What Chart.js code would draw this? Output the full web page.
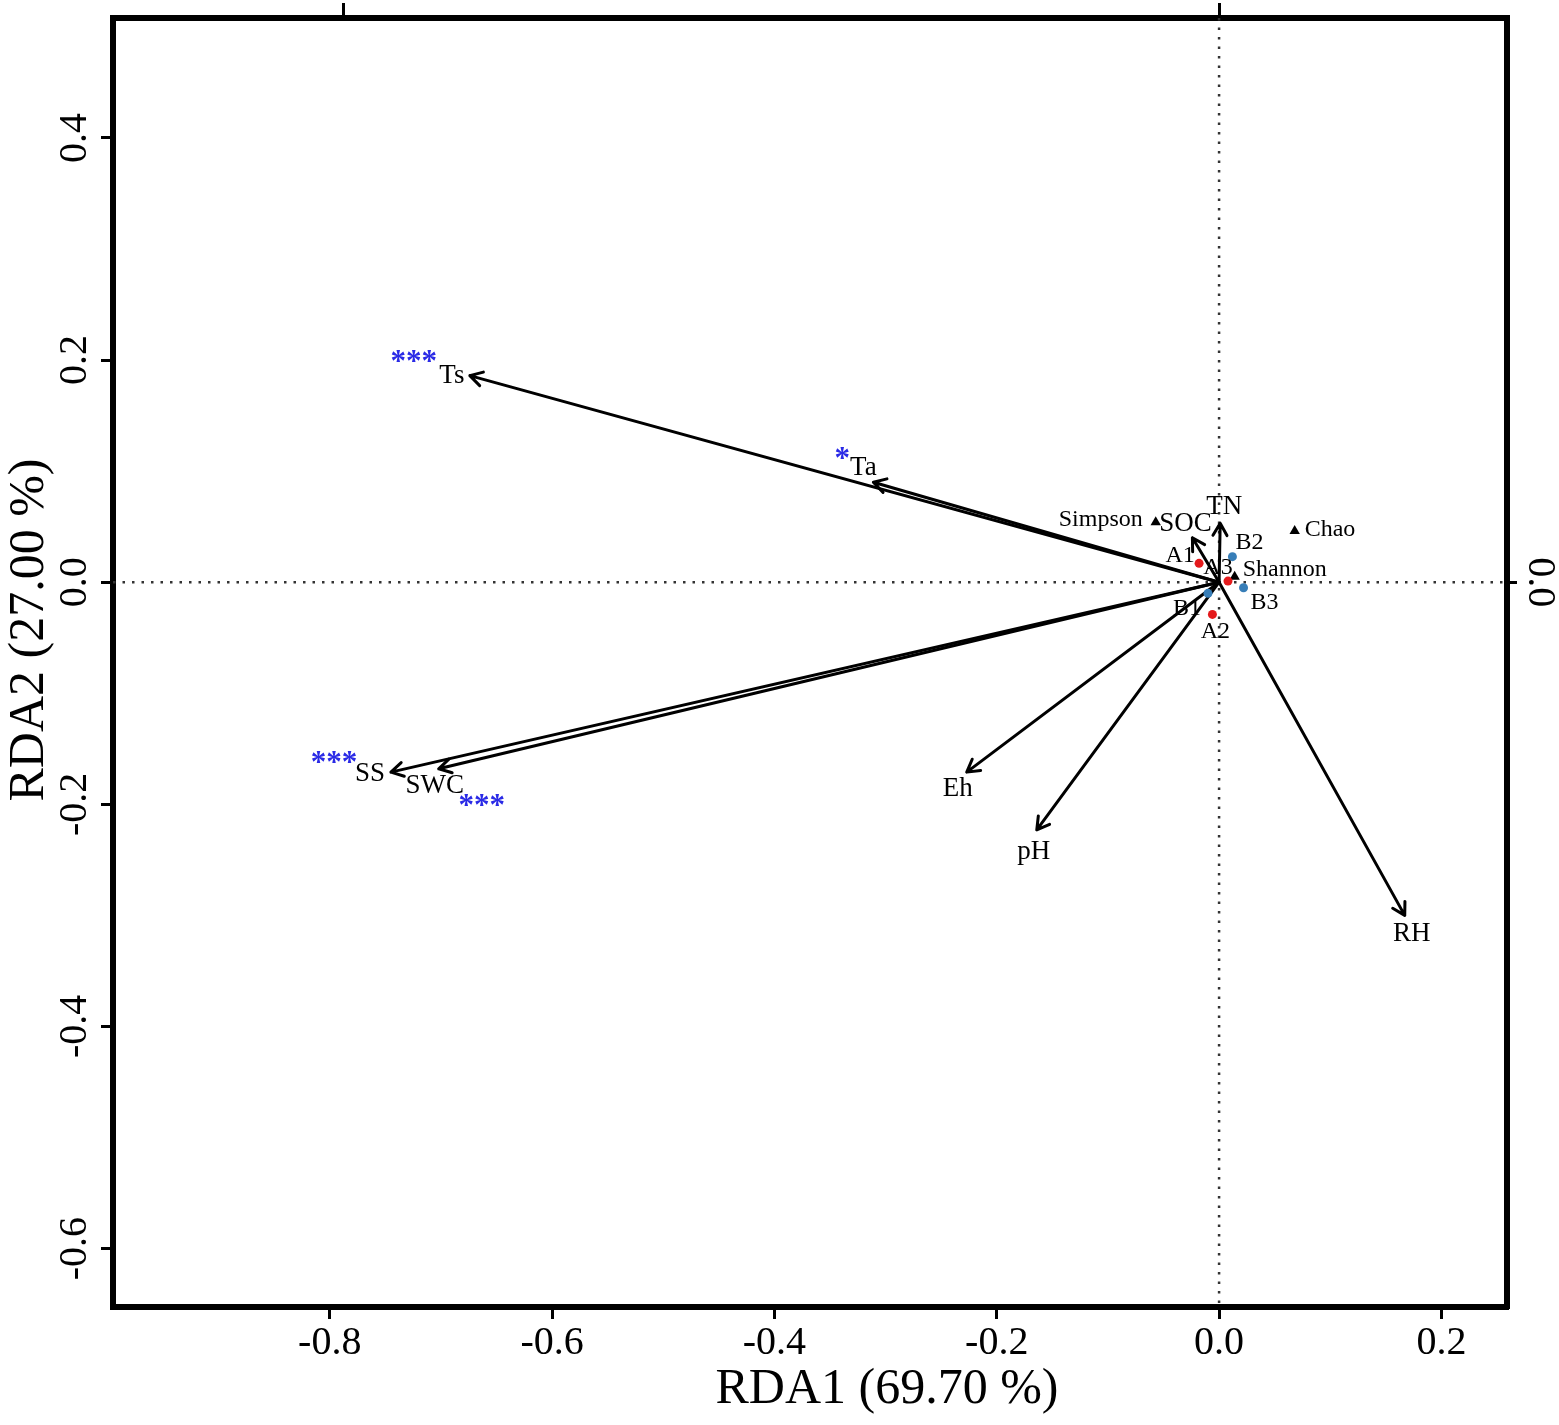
<!DOCTYPE html>
<html>
<head>
<meta charset="utf-8">
<script src="https://cdn.jsdelivr.net/npm/chart.js@4.4.0/dist/chart.umd.min.js"></script>
<style>
  html, body { margin: 0; padding: 0; background: #fff; }
  #wrap { width: 1559px; height: 1425px; position: relative; }
</style>
</head>
<body>
<div id="wrap"><canvas id="rda"></canvas></div>
<script>
// samples
const siteNames = ["A1", "A2", "A3", "B1", "B2", "B3"];
const siteGroup = ["A", "A", "A", "B", "B", "B"];
const siteX = [-0.018, -0.006, 0.008, -0.010, 0.012, 0.022];
const siteY = [0.017, -0.029, 0.001, -0.010, 0.023, -0.005];

// diversity indices
const indexNames = ["Simpson", "Chao", "Shannon"];
const indexX = [-0.057, 0.068, 0.014];
const indexY = [0.054, 0.046, 0.005];

// environmental factors (arrow tips)
const envNames = ["Ts", "Ta", "SS", "SWC", "Eh", "pH", "RH", "TN", "SOC"];
const envX = [-0.674, -0.311, -0.745, -0.702, -0.227, -0.164, 0.167, 0.001, -0.024];
const envY = [0.186, 0.090, -0.171, -0.168, -0.171, -0.223, -0.300, 0.053, 0.040];
const envSig = ["***", "*", "***", "***", "", "", "", "", ""];

// axes
const xMin = -0.995, xMax = 0.259;
const yMin = -0.6526, yMax = 0.508;
const tickStep = 0.2;
const topTicks = [-0.788, 0];
const rightTicks = [0];
const xTitle = "RDA1 (69.70 %)";
const yTitle = "RDA2 (27.00 %)";

// label placement, pixel offsets from the mark
const siteLabelPos = { A1: [-19, -8], A2: [3, 17], A3: [-10, -13], B1: [-21, 15], B2: [17, -14], B3: [21, 15] };
const indexLabelPos = { Simpson: [-13, -3, "right"], Chao: [10, -1, "left"], Shannon: [8, -7, "left"] };
const envLabelPos = { Ts: [-18, 0], Ta: [-10, -14], SS: [-21, 2], SWC: [-4, 17], Eh: [-9, 17], pH: [-3, 22], RH: [7, 19], TN: [4, -16], SOC: [-7, -14] };
const starPos = { Ts: [-38, -5], Ta: [-21, 0], SS: [-36, -2], SWC: [47, 29] };

const SERIF = "'Liberation Serif', 'Times New Roman', serif";
const siteColors = { A: "#E41A1C", B: "#377EB8" };

const fmt = v => (Math.abs(v) < 1e-9 ? 0 : v).toFixed(1);

const rdaPlugin = {
  id: "rda",
  beforeDatasetsDraw(chart) {
    const { ctx, chartArea: a, scales: { x, y } } = chart;
    const x0 = x.getPixelForValue(0), y0 = y.getPixelForValue(0);
    ctx.save();
    ctx.beginPath();
    ctx.rect(a.left, a.top, a.right - a.left, a.bottom - a.top);
    ctx.clip();
    // zero lines
    ctx.strokeStyle = "#333";
    ctx.lineWidth = 2.5;
    ctx.setLineDash([2.5, 7]);
    ctx.beginPath();
    ctx.moveTo(x0, a.top); ctx.lineTo(x0, a.bottom);
    ctx.moveTo(a.left, y0); ctx.lineTo(a.right, y0);
    ctx.stroke();
    ctx.setLineDash([]);
    // arrows
    ctx.strokeStyle = "#000";
    ctx.lineWidth = 3;
    ctx.lineCap = "round";
    ctx.lineJoin = "round";
    envNames.forEach((n, i) => {
      const px = x.getPixelForValue(envX[i]), py = y.getPixelForValue(envY[i]);
      const ang = Math.atan2(py - y0, px - x0), L = 14, h = Math.PI / 6;
      ctx.beginPath();
      ctx.moveTo(x0, y0); ctx.lineTo(px, py);
      ctx.moveTo(px - L * Math.cos(ang - h), py - L * Math.sin(ang - h));
      ctx.lineTo(px, py);
      ctx.lineTo(px - L * Math.cos(ang + h), py - L * Math.sin(ang + h));
      ctx.stroke();
    });
    ctx.restore();
  },
  afterDatasetsDraw(chart) {
    const { ctx, scales: { x, y } } = chart;
    ctx.save();
    ctx.textAlign = "center";
    // env labels and significance stars
    envNames.forEach((n, i) => {
      const px = x.getPixelForValue(envX[i]), py = y.getPixelForValue(envY[i]);
      const o = envLabelPos[n];
      ctx.font = "27px " + SERIF;
      ctx.fillStyle = "#000";
      ctx.textBaseline = "middle";
      ctx.fillText(n, px + o[0], py + o[1]);
      if (envSig[i]) {
        const s = starPos[n];
        ctx.font = "bold 31px " + SERIF;
        ctx.fillStyle = "#2A2AE6";
        ctx.textBaseline = "alphabetic";
        ctx.fillText(envSig[i], px + o[0] + s[0], py + o[1] + s[1]);
      }
    });
    ctx.fillStyle = "#000";
    ctx.textBaseline = "middle";
    // index labels
    ctx.font = "24px " + SERIF;
    indexNames.forEach((n, i) => {
      const o = indexLabelPos[n];
      ctx.textAlign = o[2];
      ctx.fillText(n, x.getPixelForValue(indexX[i]) + o[0], y.getPixelForValue(indexY[i]) + o[1]);
    });
    // site labels
    ctx.textAlign = "center";
    siteNames.forEach((n, i) => {
      const o = siteLabelPos[n];
      ctx.fillText(n, x.getPixelForValue(siteX[i]) + o[0], y.getPixelForValue(siteY[i]) + o[1]);
    });
    ctx.restore();
  },
  afterDraw(chart) {
    const { ctx } = chart;
    ctx.save();
    ctx.fillStyle = "#000";
    ctx.font = "50px " + SERIF;
    ctx.textAlign = "center";
    ctx.textBaseline = "alphabetic";
    ctx.fillText(xTitle, 887, 1403);
    ctx.translate(43, 630);
    ctx.rotate(-Math.PI / 2);
    ctx.fillText(yTitle, 0, 0);
    ctx.restore();
  }
};

const tickFont = { family: SERIF, size: 40 };
const gridOpts = len => ({
  drawOnChartArea: false, drawTicks: true, tickLength: len, tickWidth: 3,
  tickColor: "#000", color: "#000", lineWidth: 3
});
const borderOpts = { display: true, width: 6, color: "#000" };

new Chart(document.getElementById("rda"), {
  type: "scatter",
  plugins: [rdaPlugin],
  data: {
    datasets: [
      {
        label: "sites",
        data: siteX.map((v, i) => ({ x: v, y: siteY[i] })),
        backgroundColor: siteGroup.map(g => siteColors[g]),
        borderWidth: 0,
        pointRadius: 4.5,
      },
      {
        label: "indices",
        data: indexX.map((v, i) => ({ x: v, y: indexY[i] })),
        backgroundColor: "#000",
        borderWidth: 0,
        pointStyle: "triangle",
        pointRadius: 6,
      },
    ],
  },
  options: {
    responsive: true,
    maintainAspectRatio: false,
    animation: false,
    events: [],
    layout: { padding: 0 },
    plugins: { legend: { display: false }, tooltip: { enabled: false } },
    scales: {
      x: {
        type: "linear", position: "bottom", min: xMin, max: xMax,
        ticks: { stepSize: tickStep, includeBounds: false, font: tickFont, color: "#000", padding: 0, maxRotation: 0, callback: fmt },
        grid: gridOpts(12),
        border: borderOpts,
        afterFit(s) { s.height = 118; s.paddingLeft = 0; s.paddingRight = 0; },
      },
      xTop: {
        type: "linear", position: "top", min: xMin, max: xMax,
        afterBuildTicks(s) { s.ticks = topTicks.map(v => ({ value: v })); },
        ticks: { display: false },
        grid: gridOpts(15),
        border: borderOpts,
        afterFit(s) { s.height = 18; s.paddingLeft = 0; s.paddingRight = 0; },
      },
      y: {
        type: "linear", position: "left", min: yMin, max: yMax,
        ticks: { stepSize: tickStep, includeBounds: false, font: tickFont, color: "#000", padding: -6, minRotation: 90, maxRotation: 90, crossAlign: "center", callback: fmt },
        grid: gridOpts(12),
        border: borderOpts,
        afterFit(s) { s.width = 113; s.paddingTop = 0; s.paddingBottom = 0; },
      },
      yRight: {
        type: "linear", position: "right", min: yMin, max: yMax,
        afterBuildTicks(s) { s.ticks = rightTicks.map(v => ({ value: v })); },
        ticks: { font: tickFont, color: "#000", padding: -3, minRotation: -90, maxRotation: -90, crossAlign: "center", callback: fmt },
        grid: gridOpts(10),
        border: borderOpts,
        afterFit(s) { s.width = 52; s.paddingTop = 0; s.paddingBottom = 0; },
      },
    },
  },
});
</script>
</body>
</html>
